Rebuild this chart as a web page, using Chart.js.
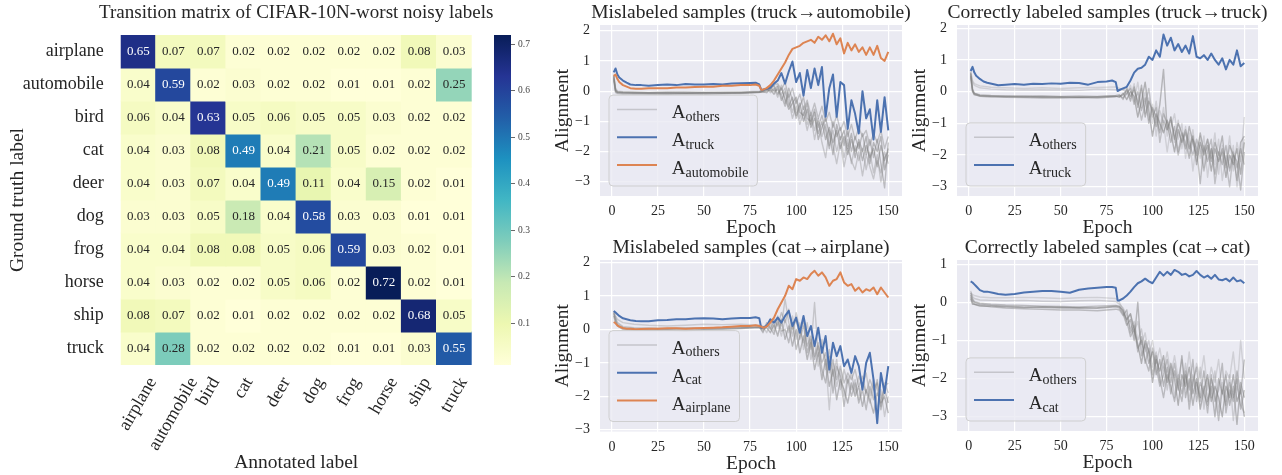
<!DOCTYPE html>
<html>
<head>
<meta charset="utf-8">
<script src="https://cdn.jsdelivr.net/npm/chart.js@4.4.0/dist/chart.umd.min.js"></script>
<style>
  body { margin: 0; background: #fff; }
  #wrap { position: relative; width: 1282px; height: 475px; }
  #wrap canvas { position: absolute; left: 0; top: 0; }
</style>
</head>
<body>
<div id="wrap">
  <canvas id="heat" width="1282" height="475"></canvas>
  <canvas id="cbar" width="1282" height="475"></canvas>
  <canvas id="p1" width="1282" height="475"></canvas>
  <canvas id="p2" width="1282" height="475"></canvas>
  <canvas id="p3" width="1282" height="475"></canvas>
  <canvas id="p4" width="1282" height="475"></canvas>
</div>
<script>
// ---- data: transition matrix ----
const GROUND_TRUTH = ['airplane', 'automobile', 'bird', 'cat', 'deer', 'dog', 'frog', 'horse', 'ship', 'truck'];
const ANNOTATED = ['airplane', 'automobile', 'bird', 'cat', 'deer', 'dog', 'frog', 'horse', 'ship', 'truck'];
const TRANSITION = [
  [0.65, 0.07, 0.07, 0.02, 0.02, 0.02, 0.02, 0.02, 0.08, 0.03],
  [0.04, 0.59, 0.02, 0.03, 0.02, 0.02, 0.01, 0.01, 0.02, 0.25],
  [0.06, 0.04, 0.63, 0.05, 0.06, 0.05, 0.05, 0.03, 0.02, 0.02],
  [0.04, 0.03, 0.08, 0.49, 0.04, 0.21, 0.05, 0.02, 0.02, 0.02],
  [0.04, 0.03, 0.07, 0.04, 0.49, 0.11, 0.04, 0.15, 0.02, 0.01],
  [0.03, 0.03, 0.05, 0.18, 0.04, 0.58, 0.03, 0.03, 0.01, 0.01],
  [0.04, 0.04, 0.08, 0.08, 0.05, 0.06, 0.59, 0.03, 0.02, 0.01],
  [0.04, 0.03, 0.02, 0.02, 0.05, 0.06, 0.02, 0.72, 0.02, 0.01],
  [0.08, 0.07, 0.02, 0.01, 0.02, 0.02, 0.02, 0.02, 0.68, 0.05],
  [0.04, 0.28, 0.02, 0.02, 0.02, 0.02, 0.01, 0.01, 0.03, 0.55]
];
const VMIN = 0.01, VMAX = 0.72;
const CBAR_TICKS = [0.1, 0.2, 0.3, 0.4, 0.5, 0.6, 0.7];

// ---- data: alignment curves ----
const EPOCH_TICKS = [0, 25, 50, 75, 100, 125, 150];
const MAIN_EPOCHS = [1, 2, 3, 4, 6, 8, 10, 13, 16, 20, 25, 30, 35, 40, 45, 50, 55, 60, 65, 70, 75, 78, 80, 81,
  82, 84, 86, 88, 90, 92, 94, 96, 98, 100, 102, 104, 106, 108, 110, 112, 114, 116, 118, 120,
  122, 124, 126, 128, 130, 132, 134, 136, 138, 140, 142, 144, 146, 148, 150];
const GREY_EPOCHS = [1, 2, 3, 6, 12, 20, 30, 40, 50, 60, 70, 80,
  82, 84, 86, 88, 90, 92, 94, 96, 98, 100, 102, 104, 106, 108, 110, 112, 114, 116, 118, 120,
  122, 124, 126, 128, 130, 132, 134, 136, 138, 140, 142, 144, 146, 148, 150];

// panel 1: truck -> automobile
const P1_TRUCK = [0.62, 0.75, 0.55, 0.45, 0.35, 0.28, 0.22, 0.2, 0.2, 0.18, 0.2, 0.22, 0.2, 0.24, 0.22, 0.22, 0.24, 0.22, 0.25, 0.26, 0.27, 0.28, 0.22, 0.05,
  0.05, 0.08, 0.12, 0.25, 0.35, 0.6, 0.25, 0.65, 0.98, 0.3, 0.6, -0.15, 0.7, 0.1, 0.75, 0.2, 0.8, -0.85, 0.1, 0.55,
  -0.85, 0.3, 0.2, -1.25, -0.3, -0.75, -1.4, 0.0, -0.9, -0.6, -1.6, -0.3, -1.35, -0.2, -1.3];
const P1_AUTOMOBILE = [0.5, 0.55, 0.4, 0.3, 0.2, 0.15, 0.1, 0.08, 0.08, 0.1, 0.1, 0.1, 0.12, 0.12, 0.14, 0.15, 0.15, 0.18, 0.18, 0.2, 0.2, 0.22, 0.18, 0.05,
  0.05, 0.1, 0.2, 0.35, 0.55, 0.75, 0.95, 1.2, 1.4, 1.45, 1.5, 1.6, 1.65, 1.7, 1.6, 1.8, 1.7, 1.85, 1.65, 1.9,
  1.55, 1.75, 1.25, 1.6, 1.35, 1.55, 1.3, 1.45, 1.2, 1.45, 1.2, 1.5, 1.1, 1.0, 1.3];
const P1_OTHERS = [
  [0.5, 0.05, -0.02, -0.03, -0.04, -0.05, -0.04, -0.05, -0.04, -0.05, -0.04, -0.02,
   0.0, 0.05, 0.1, 0.2, 0.25, 0.05, 0.3, -0.2, 0.1, -0.4, -0.1, -0.6, -0.3, -0.8, -0.4, -0.9, -0.5, -1.0, -0.7, -1.2,
   -0.8, -1.3, -1.0, -1.5, -1.1, -1.6, -1.2, -1.5, -1.3, -1.8, -1.4, -1.7, -1.3, -1.9, -1.5],
  [0.45, 0.0, -0.04, -0.05, -0.06, -0.06, -0.07, -0.06, -0.05, -0.06, -0.05, -0.03,
   -0.02, 0.0, 0.05, -0.1, 0.15, -0.3, 0.0, -0.5, -0.2, -0.8, -0.4, -1.0, -0.6, -1.2, -0.9, -1.4, -1.0, -1.6, -1.2, -1.7,
   -1.3, -1.9, -1.5, -2.1, -1.6, -2.0, -1.7, -2.3, -1.8, -2.2, -1.9, -2.5, -1.8, -2.3, -1.9],
  [0.55, 0.1, 0.0, -0.02, -0.03, -0.04, -0.03, -0.02, -0.04, -0.03, -0.03, 0.0,
   0.02, 0.08, 0.0, 0.1, -0.2, 0.2, -0.4, -0.1, -0.7, -0.3, -0.9, -0.5, -1.1, -0.7, -1.3, -0.9, -1.5, -1.1, -1.8, -1.3,
   -2.0, -1.5, -2.2, -1.6, -2.4, -1.8, -2.3, -1.9, -2.6, -2.0, -2.7, -2.1, -3.0, -2.2, -2.0],
  [0.4, -0.02, -0.06, -0.07, -0.08, -0.08, -0.09, -0.08, -0.07, -0.08, -0.06, -0.04,
   0.0, 0.03, 0.12, 0.0, 0.05, -0.15, -0.5, 0.1, -0.3, -0.9, -0.5, -0.2, -0.9, -1.0, -0.6, -1.2, -0.8, -1.3, -1.9, -1.0,
   -1.5, -1.2, -1.8, -1.3, -2.0, -1.5, -1.9, -1.4, -2.1, -1.6, -2.2, -1.6, -2.4, -3.2, -1.7],
  [0.5, 0.03, -0.03, -0.05, -0.05, -0.06, -0.05, -0.07, -0.06, -0.05, -0.06, -0.03,
   -0.03, -0.05, 0.08, 0.18, -0.1, 0.1, -0.25, -0.6, -0.4, -0.2, -0.7, -0.8, -0.4, -1.1, -0.7, -1.6, -1.2, -0.9, -1.4, -2.1,
   -1.1, -1.6, -1.3, -1.9, -1.4, -2.2, -1.6, -2.0, -1.5, -2.4, -1.7, -2.0, -1.5, -2.6, -2.1],
  [0.35, -0.05, -0.08, -0.1, -0.09, -0.1, -0.1, -0.09, -0.1, -0.08, -0.08, -0.05,
   0.01, 0.1, -0.05, 0.05, 0.2, -0.1, 0.1, -0.3, -0.9, -0.5, -1.1, -0.7, -1.3, -0.8, -1.6, -1.0, -1.7, -2.2, -1.3, -1.8,
   -2.4, -1.7, -2.5, -1.9, -2.3, -2.6, -2.0, -2.8, -2.1, -2.5, -2.9, -2.3, -2.7, -2.0, -2.4]
];

// panel 2: truck -> truck
const P2_TRUCK = [0.65, 0.78, 0.6, 0.5, 0.4, 0.32, 0.28, 0.24, 0.2, 0.22, 0.24, 0.22, 0.25, 0.24, 0.26, 0.25, 0.28, 0.27, 0.22, 0.3, 0.32, 0.35, 0.3, 0.02,
  0.05, 0.1, 0.15, 0.35, 0.6, 0.72, 0.75, 0.85, 1.1, 1.0, 1.3, 1.1, 1.8, 1.45, 1.7, 1.3, 1.5, 1.25, 1.45, 1.2,
  1.75, 1.1, 1.05, 1.15, 1.0, 1.2, 1.0, 0.85, 1.05, 0.7, 1.0, 0.85, 1.3, 0.8, 0.9];
const P2_OTHERS = [
  [0.65, 0.35, 0.25, 0.18, 0.14, 0.12, 0.1, 0.12, 0.1, 0.12, 0.13, 0.15,
   0.1, 0.05, 0.15, -0.2, 0.25, -0.4, 0.1, -0.7, -0.2, -1.0, -0.3, -1.2, -0.5, -1.4, -0.8, -1.6, -0.9, -1.8, -1.1, -2.0,
   -1.2, -2.2, -1.4, -2.4, -1.5, -2.1, -1.3, -2.6, -1.7, -2.3, -1.4, -2.5, -1.6, -2.2, -0.8],
  [0.6, 0.3, 0.2, 0.12, 0.08, 0.06, 0.05, 0.06, 0.05, 0.04, 0.08, 0.06,
   0.05, 0.1, -0.1, 0.2, -0.3, 0.3, -0.5, 0.0, -0.9, -0.4, -1.4, -0.6, -1.0, -1.9, -1.1, -0.7, -1.5, -1.0, -2.1, -1.3,
   -2.5, -1.6, -2.1, -1.4, -2.7, -1.8, -2.3, -1.5, -2.8, -2.0, -2.4, -1.7, -3.0, -2.1, -1.5],
  [0.6, 0.1, -0.05, -0.12, -0.15, -0.15, -0.17, -0.16, -0.18, -0.17, -0.18, -0.15,
   -0.15, -0.1, 0.05, -0.3, 0.15, -0.5, 0.2, -0.8, -0.3, -0.6, -1.1, -0.4, 0.7, -1.2, -0.8, -1.5, -1.0, -1.3, -1.8, -1.1,
   -1.6, -2.0, -1.3, -1.9, -1.5, -2.2, -1.6, -2.0, -1.4, -2.4, -1.7, -2.0, -2.8, -1.6, -1.4],
  [0.55, 0.05, -0.08, -0.15, -0.17, -0.18, -0.19, -0.2, -0.2, -0.19, -0.2, -0.16,
   -0.12, -0.2, -0.05, 0.1, -0.4, 0.0, -0.6, -0.2, -1.0, -0.5, -0.8, -1.3, -0.7, -1.0, -1.6, -1.1, -1.9, -1.3, -1.6, -2.1,
   -1.5, -1.8, -2.9, -1.7, -2.2, -1.8, -2.6, -1.9, -2.3, -1.7, -2.5, -2.0, -2.2, -3.1, -1.9],
  [0.5, 0.0, -0.1, -0.13, -0.14, -0.16, -0.15, -0.17, -0.16, -0.18, -0.16, -0.14,
   -0.18, -0.05, -0.25, 0.0, -0.15, -0.8, -0.3, 0.3, -0.6, -1.4, -0.7, -1.0, -1.3, -0.9, -1.3, -1.9, -1.2, -1.6, -1.3, -1.8,
   -1.4, -2.3, -1.6, -2.0, -1.7, -2.5, -1.8, -2.2, -1.9, -2.7, -2.0, -2.3, -1.8, -2.6, -1.6],
  [0.45, 0.02, -0.06, -0.1, -0.12, -0.13, -0.14, -0.13, -0.15, -0.14, -0.15, -0.12,
   -0.1, -0.25, 0.1, -0.15, 0.05, -0.3, -0.9, -0.4, 0.1, -0.8, -0.5, -1.6, -0.9, -1.2, -0.9, -1.4, -2.0, -1.5, -1.2, -1.6,
   -2.0, -1.5, -1.8, -2.5, -1.9, -1.5, -2.9, -2.1, -1.8, -2.2, -3.0, -1.9, -2.4, -1.8, -2.3]
];

// panel 3: cat -> airplane
const P3_CAT = [0.55, 0.5, 0.45, 0.4, 0.33, 0.3, 0.27, 0.25, 0.24, 0.24, 0.27, 0.28, 0.3, 0.3, 0.32, 0.33, 0.32, 0.3, 0.32, 0.34, 0.34, 0.36, 0.33, 0.05,
  0.05, 0.1, 0.3, 0.2, 0.35, 0.2, 0.4, 0.55, 0.1, 0.35, -0.1, 0.4, -0.2, 0.1, -0.5, 0.05, -0.7, -0.2, -1.2, -0.4,
  -0.8, -0.5, -1.1, -0.9, -1.3, -0.8, -1.1, -1.8, -1.0, -0.7, -1.5, -2.8, -1.3, -1.9, -1.1];
const P3_AIRPLANE = [0.22, 0.18, 0.12, 0.08, 0.04, 0.02, 0.02, 0.0, 0.01, 0.02, 0.02, 0.03, 0.03, 0.02, 0.03, 0.04, 0.05, 0.06, 0.08, 0.1, 0.1, 0.12, 0.1, 0.08,
  0.05, 0.08, 0.2, 0.35, 0.6, 0.8, 1.0, 1.3, 1.2, 1.5, 1.45, 1.55, 1.5, 1.65, 1.75, 1.6, 1.7, 1.55, 1.3, 1.45,
  1.5, 1.7, 1.4, 1.3, 1.35, 1.15, 1.25, 1.1, 1.2, 1.15, 1.25, 1.05, 1.25, 1.1, 0.95];
const P3_OTHERS = [
  [0.5, 0.35, 0.2, 0.08, 0.05, 0.04, 0.03, 0.05, 0.04, 0.06, 0.05, 0.08,
   0.05, 0.15, 0.0, 0.3, 0.1, 0.5, 0.2, 0.6, 0.0, 0.3, -0.3, 0.1, -0.5, -0.2, -0.8, -0.4, -1.0, -0.7, -1.3, -0.9,
   -1.5, -1.1, -1.6, -1.3, -1.5, -1.2, -1.7, -1.4, -1.9, -1.5, -1.8, -1.6, -2.1, -1.7, -1.6],
  [0.45, 0.3, 0.15, 0.05, 0.02, 0.01, 0.02, 0.0, 0.03, 0.02, 0.05, 0.06,
   -0.05, 0.1, 0.25, 0.05, 0.4, 0.1, 0.9, 0.2, -0.2, 0.5, 0.0, -0.4, 0.2, -0.6, 0.8, -0.8, -0.3, -1.2, -0.6, -1.4,
   -0.9, -1.8, -1.2, -1.6, -1.3, -1.9, -1.4, -1.7, -1.3, -2.0, -1.5, -1.8, -2.3, -1.6, -1.9],
  [0.55, 0.4, 0.3, 0.2, 0.15, 0.12, 0.1, 0.12, 0.15, 0.14, 0.15, 0.12,
   0.1, -0.1, 0.15, -0.05, 0.2, -0.2, 0.3, -0.1, 0.4, -0.3, 0.2, -0.6, -0.1, -0.9, -0.4, -1.1, -0.6, -0.9, -2.4, -1.0,
   -1.7, -1.2, -2.0, -1.4, -1.8, -1.5, -2.1, -1.6, -1.9, -2.2, -1.7, -2.4, -1.8, -2.6, -2.0],
  [0.4, 0.2, 0.1, 0.0, -0.02, -0.03, -0.02, -0.04, -0.01, 0.0, 0.02, 0.05,
   0.0, 0.05, -0.1, 0.15, -0.2, 0.3, -0.3, 0.1, -0.5, 0.0, -0.7, -0.2, -0.9, -0.4, -1.2, -0.7, -1.5, -0.9, -1.7, -1.2,
   -2.1, -1.5, -1.8, -2.2, -1.6, -2.0, -1.7, -2.3, -1.8, -2.1, -2.5, -1.9, -2.2, -2.0, -2.5],
  [0.5, 0.25, 0.12, 0.03, 0.0, -0.01, 0.0, 0.02, 0.01, 0.03, 0.04, 0.07,
   -0.1, 0.2, 0.05, -0.15, 0.3, -0.05, 0.0, -0.4, 0.2, -0.6, -0.2, 0.3, -0.7, -0.3, -0.9, -0.5, -1.2, -1.6, -0.8, -1.9,
   -1.1, -1.4, -2.3, -1.5, -2.0, -1.6, -2.2, -1.8, -2.4, -1.7, -2.1, -1.5, -2.4, -1.8, -2.2]
];

// panel 4: cat -> cat
const P4_CAT = [0.55, 0.52, 0.47, 0.42, 0.32, 0.28, 0.28, 0.25, 0.22, 0.2, 0.22, 0.26, 0.28, 0.3, 0.3, 0.28, 0.25, 0.33, 0.36, 0.38, 0.4, 0.4, 0.38, 0.05,
  0.05, 0.1, 0.18, 0.28, 0.4, 0.5, 0.55, 0.62, 0.55, 0.5, 0.65, 0.8, 0.7, 0.8, 0.72, 0.85, 0.8, 0.72, 0.75, 0.68,
  0.72, 0.82, 0.72, 0.65, 0.7, 0.62, 0.72, 0.6, 0.58, 0.62, 0.55, 0.65, 0.55, 0.58, 0.5];
const P4_OTHERS = [
  [0.25, 0.2, 0.18, 0.14, 0.12, 0.12, 0.13, 0.12, 0.1, 0.12, 0.13, 0.1,
   0.0, -0.2, -0.5, -0.3, -0.8, -0.5, -1.1, -0.8, -1.4, -1.0, -1.6, -1.2, -1.8, -1.3, -1.9, -1.4, -2.0, -1.5, -2.1, -1.3,
   -2.2, -1.6, -2.0, -1.4, -2.3, -1.7, -2.1, -1.5, -2.4, -1.8, -2.0, -1.3, -2.3, -1.0, -2.0],
  [0.3, 0.15, 0.1, 0.06, 0.05, 0.04, 0.05, 0.03, 0.02, 0.04, 0.05, 0.02,
   -0.05, -0.15, -0.35, -0.7, -0.5, -1.0, -0.7, -1.3, -1.0, -1.7, -1.3, -2.1, -1.6, -2.3, -1.7, -2.5, -1.9, -2.2, -1.6, -2.6,
   -1.9, -2.4, -1.7, -2.8, -2.0, -2.5, -1.8, -2.9, -2.1, -2.6, -1.9, -3.1, -2.2, -2.7, -2.9],
  [0.2, 0.05, 0.0, -0.05, -0.08, -0.1, -0.12, -0.13, -0.15, -0.14, -0.16, -0.12,
   -0.15, -0.3, -0.6, -0.45, -1.0, 0.0, -1.4, -1.1, -1.6, -1.3, -1.9, -1.5, -2.2, -1.7, -2.4, -1.8, -2.3, -1.4, -2.5, -2.0,
   -2.7, -2.1, -2.5, -1.8, -2.6, -2.2, -3.0, -2.0, -2.4, -1.9, -2.7, -2.2, -3.2, -2.1, -2.5],
  [0.15, 0.0, -0.05, -0.08, -0.12, -0.15, -0.17, -0.18, -0.2, -0.2, -0.22, -0.18,
   -0.2, -0.35, -0.2, -0.8, -0.6, -1.3, -0.9, -1.6, -1.2, -1.9, -1.4, -2.0, -2.5, -1.9, -2.2, -2.6, -2.0, -2.4, -1.8, -2.8,
   -2.1, -1.7, -2.6, -2.2, -2.9, -2.0, -2.4, -3.1, -2.3, -2.7, -2.1, -2.5, -2.0, -2.8, -2.3],
  [0.1, -0.05, -0.05, -0.1, -0.1, -0.12, -0.14, -0.12, -0.13, -0.15, -0.14, -0.1,
   -0.1, -0.25, -0.45, -0.3, -0.7, -1.1, -1.6, -1.0, -1.3, -2.1, -1.5, -1.8, -1.4, -2.1, -1.6, -2.0, -2.7, -1.9, -2.2, -1.7,
   -2.4, -2.0, -2.8, -2.3, -1.9, -2.6, -2.2, -2.5, -3.0, -2.2, -2.5, -1.9, -2.6, -2.3, -3.0],
  [0.25, 0.1, 0.02, -0.02, -0.05, -0.07, -0.08, -0.1, -0.11, -0.12, -0.1, -0.08,
   -0.12, -0.2, -0.5, -0.9, -0.7, -1.2, -1.0, -1.5, -1.8, -1.2, -1.7, -2.2, -1.9, -1.5, -2.1, -1.6, -2.2, -2.6, -1.9, -2.3,
   -1.5, -2.6, -2.1, -2.4, -2.7, -1.9, -2.6, -2.3, -1.6, -2.9, -2.3, -2.6, -1.8, -2.4, -1.5]
];

// ---- styles ----
const FONT = "'Liberation Serif', 'Times New Roman', serif";
const INK = '#262626';
const BLUE = '#4c72b0';
const ORANGE = '#dd8452';
const PANEL_BG = '#eaeaf2';
const YLGNBU = ['#ffffd9', '#edf8b1', '#c7e9b4', '#7fcdbb', '#41b6c4', '#1d91c0', '#225ea8', '#253494', '#081d58'];
const W = 1282, H = 475;

Chart.defaults.font.family = FONT;
Chart.defaults.color = INK;

function hexRgb(h) {
  return [1, 3, 5].map(i => parseInt(h.slice(i, i + 2), 16));
}
function cmap(t) {
  t = Math.min(1, Math.max(0, t));
  const s = t * (YLGNBU.length - 1);
  const i = Math.min(YLGNBU.length - 2, Math.floor(s));
  const f = s - i;
  const a = hexRgb(YLGNBU[i]), b = hexRgb(YLGNBU[i + 1]);
  return a.map((c, k) => Math.round(c + (b[k] - c) * f));
}
function rgbStr(c) { return `rgb(${c[0]},${c[1]},${c[2]})`; }
function luminance(c) {
  const l = c.map(v => { v /= 255; return v <= 0.03928 ? v / 12.92 : Math.pow((v + 0.055) / 1.055, 2.4); });
  return 0.2126 * l[0] + 0.7152 * l[1] + 0.0722 * l[2];
}
function norm(v) { return (v - VMIN) / (VMAX - VMIN); }

// ---- heatmap ----
const heatArea = { left: 120.7, top: 35, right: 471.7, bottom: 365 };

const heatText = {
  id: 'heatText',
  afterDatasetsDraw(chart) {
    const { ctx, scales: { x, y } } = chart;
    ctx.save();
    ctx.font = `13px ${FONT}`;
    ctx.textAlign = 'center';
    ctx.textBaseline = 'middle';
    TRANSITION.forEach((row, r) => row.forEach((v, c) => {
      const col = cmap(norm(v));
      ctx.fillStyle = luminance(col) > 0.408 ? INK : '#ffffff';
      ctx.fillText(v.toFixed(2), x.getPixelForValue(c), y.getPixelForValue(r) + 0.5);
    }));
    ctx.restore();
  },
  afterDraw(chart) {
    const { ctx, chartArea: a, scales: { x } } = chart;
    const cx = (a.left + a.right) / 2;
    ctx.save();
    ctx.fillStyle = INK;
    ctx.textAlign = 'center';
    ctx.textBaseline = 'middle';
    ctx.font = `19px ${FONT}`;
    ctx.fillText('Transition matrix of CIFAR-10N-worst noisy labels', cx, 13);
    ctx.font = `19.5px ${FONT}`;
    ctx.fillText('Annotated label', cx, 463);
    ctx.save();
    ctx.translate(18, (a.top + a.bottom) / 2);
    ctx.rotate(-Math.PI / 2);
    ctx.fillText('Ground truth label', 0, 0);
    ctx.restore();
    // rotated column labels
    ctx.font = `18px ${FONT}`;
    ctx.textAlign = 'right';
    ANNOTATED.forEach((lab, c) => {
      const w = ctx.measureText(lab).width;
      ctx.save();
      ctx.translate(x.getPixelForValue(c) + 0.25 * w, a.bottom + 14);
      ctx.rotate(-Math.PI / 3);
      ctx.fillText(lab, 0, 0);
      ctx.restore();
    });
    ctx.restore();
  }
};

new Chart(document.getElementById('heat'), {
  type: 'bar',
  data: {
    labels: ANNOTATED,
    datasets: TRANSITION.map((row, r) => ({
      data: row.map(() => [r - 0.5, r + 0.5]),
      backgroundColor: row.map(v => rgbStr(cmap(norm(v)))),
      borderWidth: 0,
      inflateAmount: 0.6,
      barPercentage: 1,
      categoryPercentage: 1,
      grouped: false
    }))
  },
  options: {
    responsive: false,
    animation: false,
    devicePixelRatio: 1,
    events: [],
    layout: { padding: { left: 0, top: heatArea.top, right: W - heatArea.right, bottom: H - heatArea.bottom } },
    plugins: { legend: { display: false }, tooltip: { enabled: false } },
    scales: {
      x: { display: false },
      y: {
        type: 'linear',
        min: -0.5,
        max: 9.5,
        reverse: true,
        afterBuildTicks: s => { s.ticks = GROUND_TRUTH.map((_, i) => ({ value: i })); },
        afterFit: s => { s.width = heatArea.left; },
        grid: { display: false },
        border: { display: false },
        ticks: { font: { size: 18 }, color: INK, padding: 9, callback: v => GROUND_TRUTH[v] }
      }
    }
  },
  plugins: [heatText]
});

// ---- colorbar ----
const cbArea = { left: 494, right: 511 };
const CBW = 40;
new Chart(document.getElementById('cbar'), {
  type: 'bar',
  data: {
    labels: [''],
    datasets: [{
      data: [[VMIN, VMAX]],
      backgroundColor: (c) => {
        const a = c.chart.chartArea;
        if (!a) return YLGNBU[0];
        const g = c.chart.ctx.createLinearGradient(0, a.bottom, 0, a.top);
        YLGNBU.forEach((col, i) => g.addColorStop(i / (YLGNBU.length - 1), col));
        return g;
      },
      borderWidth: 0,
      barPercentage: 1,
      categoryPercentage: 1
    }]
  },
  options: {
    responsive: false,
    animation: false,
    devicePixelRatio: 1,
    events: [],
    layout: { padding: { left: cbArea.left, top: heatArea.top, right: W - cbArea.right - CBW, bottom: H - heatArea.bottom } },
    plugins: { legend: { display: false }, tooltip: { enabled: false } },
    scales: {
      x: { display: false },
      y: {
        position: 'right',
        min: VMIN,
        max: VMAX,
        afterBuildTicks: s => { s.ticks = CBAR_TICKS.map(v => ({ value: v })); },
        afterFit: s => { s.width = CBW; },
        grid: { drawOnChartArea: false, tickLength: 4, color: '#444', lineWidth: 0.8 },
        border: { display: false },
        ticks: { font: { size: 9.5 }, color: '#444', padding: 3, callback: v => v.toFixed(1) }
      }
    }
  }
});

// ---- alignment panels ----
const YW = 40, XH = 30;

function xy(epochs, vals) { return vals.map((v, i) => ({ x: epochs[i], y: v })); }
function minusFmt(v) { return v < 0 ? '\u2212' + Math.abs(v) : String(v); }

const panelDeco = {
  id: 'panelDeco',
  beforeDraw(chart, args, o) {
    const { ctx, chartArea: a } = chart;
    ctx.save();
    ctx.fillStyle = PANEL_BG;
    ctx.fillRect(a.left, a.top, a.right - a.left, a.bottom - a.top);
    ctx.restore();
  },
  afterDatasetsDraw(chart, args, o) {
    const { ctx, chartArea: a } = chart;
    const items = o.legend;
    ctx.save();
    ctx.font = `19px ${FONT}`;
    const aw = ctx.measureText('A').width;
    ctx.font = `14px ${FONT}`;
    const sw = Math.max(...items.map(it => ctx.measureText(it.sub).width));
    const bw = 8 + 40 + 14.7 + aw + sw + 9;
    const bh = 14.3 + (items.length - 1) * 27.8 + 21;
    const bx = a.left + 9, by = a.bottom - 10 - bh;
    ctx.beginPath();
    ctx.roundRect(bx, by, bw, bh, 4);
    ctx.fillStyle = 'rgba(234,234,242,0.8)';
    ctx.fill();
    ctx.strokeStyle = 'rgba(204,204,204,0.9)';
    ctx.lineWidth = 1;
    ctx.stroke();
    items.forEach((it, i) => {
      const ly = by + 14.3 + i * 27.8;
      ctx.beginPath();
      ctx.moveTo(bx + 8, ly);
      ctx.lineTo(bx + 48, ly);
      ctx.strokeStyle = it.color;
      ctx.lineWidth = it.width;
      ctx.stroke();
      ctx.fillStyle = INK;
      ctx.textAlign = 'left';
      ctx.textBaseline = 'alphabetic';
      ctx.font = `19px ${FONT}`;
      ctx.fillText('A', bx + 62.7, ly + 9);
      ctx.font = `14px ${FONT}`;
      ctx.fillText(it.sub, bx + 62.7 + aw, ly + 11.5);
    });
    ctx.restore();
  },
  afterDraw(chart, args, o) {
    const { ctx, chartArea: a } = chart;
    const cx = (a.left + a.right) / 2;
    ctx.save();
    ctx.fillStyle = INK;
    ctx.textAlign = 'center';
    ctx.textBaseline = 'middle';
    ctx.font = `19.5px ${FONT}`;
    ctx.fillText(o.title, cx, a.top - 11.7);
    ctx.fillText('Epoch', cx, a.bottom + 32);
    ctx.translate(a.left - 37, (a.top + a.bottom) / 2);
    ctx.rotate(-Math.PI / 2);
    ctx.fillText('Alignment', 0, 0);
    ctx.restore();
  }
};

function panel(id, p) {
  const a = p.area;
  const datasets = [];
  p.others.forEach((vals, i) => datasets.push({
    data: xy(GREY_EPOCHS, vals),
    borderColor: `rgba(128,128,128,${p.greyAlpha[i]})`,
    borderWidth: 1.4,
    order: 3
  }));
  p.main.forEach((m, i) => datasets.push({
    data: xy(MAIN_EPOCHS, m.values),
    borderColor: m.color,
    borderWidth: 2,
    order: 2 - i
  }));
  const yTicks = [];
  for (let v = Math.ceil(p.ylim[0]); v <= Math.floor(p.ylim[1]); v++) yTicks.push(v);
  return new Chart(document.getElementById(id), {
    type: 'line',
    data: { datasets },
    options: {
      responsive: false,
      animation: false,
      devicePixelRatio: 1,
      events: [],
      elements: { point: { radius: 0 }, line: { tension: 0, borderJoinStyle: 'round', borderCapStyle: 'butt' } },
      layout: { padding: { left: a.left - YW, top: a.top, right: W - a.right, bottom: H - a.bottom - XH } },
      plugins: {
        legend: { display: false },
        tooltip: { enabled: false },
        panelDeco: { title: p.title, legend: p.legend }
      },
      scales: {
        x: {
          type: 'linear',
          bounds: 'data',
          min: -6.45,
          max: 157.45,
          afterBuildTicks: s => { s.ticks = EPOCH_TICKS.map(v => ({ value: v })); },
          afterFit: s => { s.height = XH; },
          grid: { color: '#ffffff', lineWidth: 1.2, drawTicks: false },
          border: { display: false },
          ticks: { font: { size: 14 }, color: INK, padding: 7, maxRotation: 0, autoSkip: false }
        },
        y: {
          type: 'linear',
          bounds: 'data',
          min: p.ylim[0],
          max: p.ylim[1],
          afterBuildTicks: s => { s.ticks = yTicks.map(v => ({ value: v })); },
          afterFit: s => { s.width = YW; },
          grid: { color: '#ffffff', lineWidth: 1.2, drawTicks: false },
          border: { display: false },
          ticks: { font: { size: 14 }, color: INK, padding: 10, callback: minusFmt }
        }
      }
    },
    plugins: [panelDeco]
  });
}

const GREY_KEY = { sub: 'others', color: 'rgba(128,128,128,0.35)', width: 1.5 };

panel('p1', {
  title: 'Mislabeled samples (truck\u2192automobile)',
  area: { left: 600, top: 25, right: 902, bottom: 196 },
  ylim: [-3.47, 2.19],
  others: P1_OTHERS,
  greyAlpha: [0.4, 0.5, 0.35, 0.45, 0.5, 0.35],
  main: [{ values: P1_TRUCK, color: BLUE }, { values: P1_AUTOMOBILE, color: ORANGE }],
  legend: [GREY_KEY, { sub: 'truck', color: BLUE, width: 2 }, { sub: 'automobile', color: ORANGE, width: 2 }]
});
panel('p2', {
  title: 'Correctly labeled samples (truck\u2192truck)',
  area: { left: 957, top: 25, right: 1258, bottom: 196 },
  ylim: [-3.29, 2.10],
  others: P2_OTHERS,
  greyAlpha: [0.25, 0.25, 0.5, 0.45, 0.55, 0.4],
  main: [{ values: P2_TRUCK, color: BLUE }],
  legend: [GREY_KEY, { sub: 'truck', color: BLUE, width: 2 }]
});
panel('p3', {
  title: 'Mislabeled samples (cat\u2192airplane)',
  area: { left: 600, top: 260, right: 902, bottom: 431.5 },
  ylim: [-3.05, 2.07],
  others: P3_OTHERS,
  greyAlpha: [0.4, 0.35, 0.3, 0.5, 0.45],
  main: [{ values: P3_CAT, color: BLUE }, { values: P3_AIRPLANE, color: ORANGE }],
  legend: [GREY_KEY, { sub: 'cat', color: BLUE, width: 2 }, { sub: 'airplane', color: ORANGE, width: 2 }]
});
panel('p4', {
  title: 'Correctly labeled samples (cat\u2192cat)',
  area: { left: 957, top: 260, right: 1258, bottom: 431 },
  ylim: [-3.375, 1.11],
  others: P4_OTHERS,
  greyAlpha: [0.25, 0.3, 0.5, 0.45, 0.55, 0.45],
  main: [{ values: P4_CAT, color: BLUE }],
  legend: [GREY_KEY, { sub: 'cat', color: BLUE, width: 2 }]
});
</script>
</body>
</html>
